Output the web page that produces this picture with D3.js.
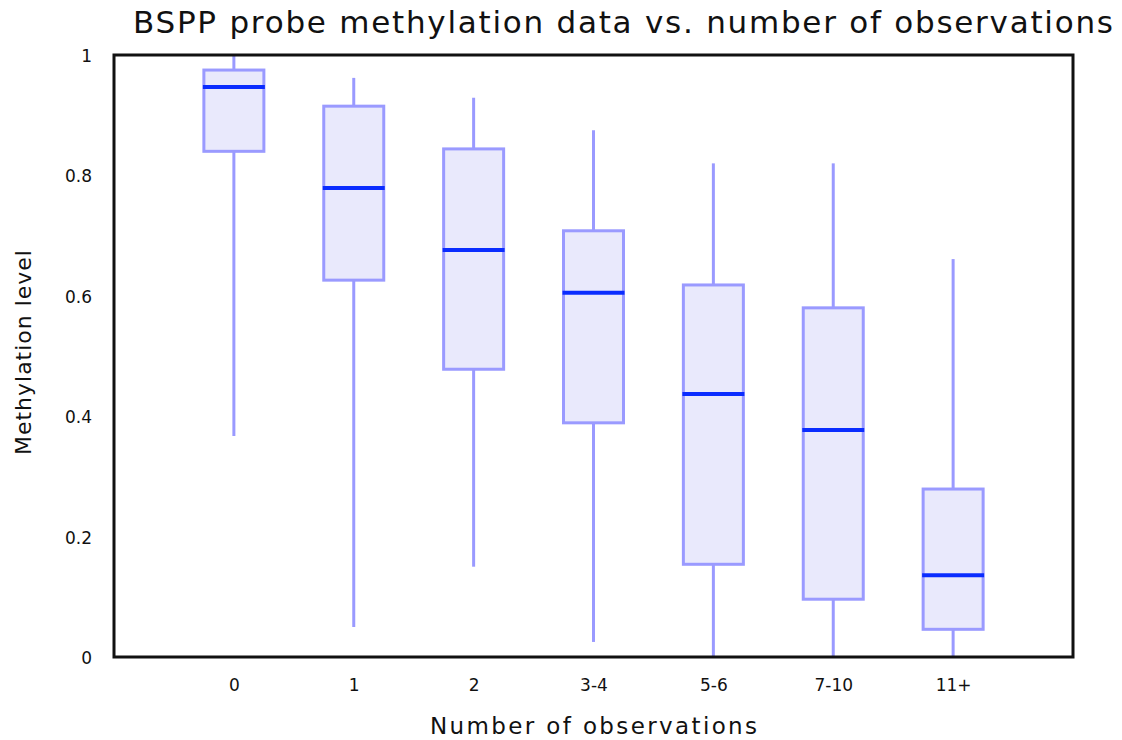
<!DOCTYPE html>
<html>
<head>
<meta charset="utf-8">
<script src="https://cdn.jsdelivr.net/npm/d3@7"></script>
<style>
  html, body { margin: 0; padding: 0; background: #fff; }
  svg { display: block; }
  text { font-family: "DejaVu Sans", "Verdana", sans-serif; fill: #111; }
</style>
</head>
<body>
<svg id="chart" width="1122" height="740"></svg>
<script>
// Observation-count groups and box statistics for each group
const categories = ["0", "1", "2", "3-4", "5-6", "7-10", "11+"];
const whiskerLow  = [0.367, 0.050, 0.150, 0.025, 0.000, 0.000, 0.000];
const q1Values    = [0.840, 0.626, 0.478, 0.389, 0.154, 0.096, 0.046];
const medians     = [0.947, 0.779, 0.676, 0.605, 0.437, 0.377, 0.136];
const q3Values    = [0.975, 0.915, 0.844, 0.708, 0.618, 0.580, 0.279];
const whiskerHigh = [1.000, 0.962, 0.929, 0.875, 0.820, 0.820, 0.661];
const yTicks = [0, 0.2, 0.4, 0.6, 0.8, 1];

const boxes = categories.map((c, i) => ({
  cat: c,
  lo: whiskerLow[i], q1: q1Values[i], med: medians[i], q3: q3Values[i], hi: whiskerHigh[i]
}));

const svg = d3.select("#chart");
const plot = { left: 114, right: 1073, top: 55, bottom: 657 };

const x = d3.scalePoint().domain(categories).range([plot.left, plot.right]).padding(1);
const y = d3.scaleLinear().domain([0, 1]).range([plot.bottom, plot.top]);
const boxW = 60;

const boxStroke = "#9a9aff";
const boxFill = "#e9e9fc";
const medianColor = "#0a2cff";

// Whiskers
const g = svg.append("g");
g.selectAll("line.whisker-hi").data(boxes).join("line")
  .attr("x1", d => x(d.cat)).attr("x2", d => x(d.cat))
  .attr("y1", d => y(d.hi)).attr("y2", d => y(d.q3))
  .attr("stroke", boxStroke).attr("stroke-width", 3);
g.selectAll("line.whisker-lo").data(boxes).join("line")
  .attr("x1", d => x(d.cat)).attr("x2", d => x(d.cat))
  .attr("y1", d => y(d.q1)).attr("y2", d => y(d.lo))
  .attr("stroke", boxStroke).attr("stroke-width", 3);

// Interquartile boxes
g.selectAll("rect.box").data(boxes).join("rect")
  .attr("x", d => x(d.cat) - boxW / 2)
  .attr("width", boxW)
  .attr("y", d => y(d.q3))
  .attr("height", d => y(d.q1) - y(d.q3))
  .attr("fill", boxFill)
  .attr("stroke", boxStroke).attr("stroke-width", 3);

// Medians
g.selectAll("line.median").data(boxes).join("line")
  .attr("x1", d => x(d.cat) - boxW / 2 - 1).attr("x2", d => x(d.cat) + boxW / 2 + 1)
  .attr("y1", d => y(d.med)).attr("y2", d => y(d.med))
  .attr("stroke", medianColor).attr("stroke-width", 4);

// Plot frame
svg.append("rect")
  .attr("x", plot.left).attr("y", plot.top)
  .attr("width", plot.right - plot.left).attr("height", plot.bottom - plot.top)
  .attr("fill", "none").attr("stroke", "#111").attr("stroke-width", 3);

// Axes (labels only, no tick marks)
const yAxis = d3.axisLeft(y).tickValues(yTicks).tickSize(0).tickPadding(22)
  .tickFormat(d => d === 0 || d === 1 ? d3.format("d")(d) : d3.format(".1f")(d));
const ya = svg.append("g").attr("transform", `translate(${plot.left},0)`).call(yAxis);
ya.select(".domain").remove();
ya.selectAll("text").attr("font-size", 17).attr("fill", "#1a1a2a")
  .style("font-family", "'DejaVu Sans', sans-serif").attr("dy", "0.38em");

const xAxis = d3.axisBottom(x).tickSize(0).tickPadding(22);
const xa = svg.append("g").attr("transform", `translate(0,${plot.bottom})`).call(xAxis);
xa.select(".domain").remove();
xa.selectAll("text").attr("font-size", 17).attr("fill", "#1a1a2a")
  .style("font-family", "'DejaVu Sans', sans-serif");

// Titles
svg.append("text")
  .attr("x", 133).attr("y", 33)
  .attr("font-size", 31)
  .attr("textLength", 980).attr("lengthAdjust", "spacing")
  .text("BSPP probe methylation data vs. number of observations");

svg.append("text")
  .attr("x", 430).attr("y", 734)
  .attr("font-size", 23)
  .attr("textLength", 327).attr("lengthAdjust", "spacing")
  .text("Number of observations");

svg.append("text")
  .attr("transform", "translate(31,455) rotate(-90)")
  .attr("font-size", 22)
  .attr("textLength", 205).attr("lengthAdjust", "spacing")
  .text("Methylation level");
</script>
</body>
</html>
